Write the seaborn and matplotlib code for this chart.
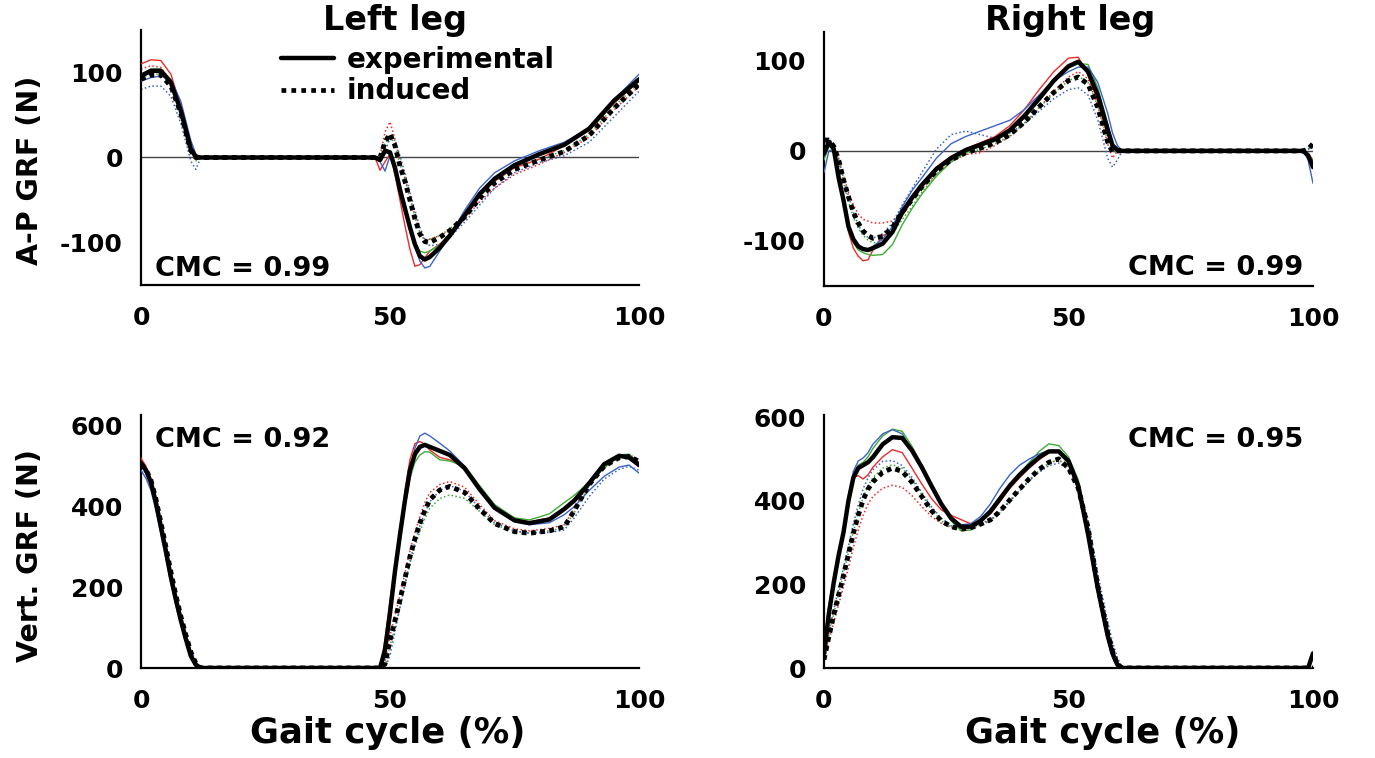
import numpy as np
import pandas as pd
import matplotlib
matplotlib.use("Agg")
import matplotlib.pyplot as plt
from matplotlib.lines import Line2D
import seaborn as sns

# ---------------- data (gait cycle %, force N) ----------------
# Top-left: Left leg, A-P GRF
tl_x = [0, 2, 4, 6, 8, 10, 11, 12, 47, 48, 49, 50, 51, 52, 53, 54, 55, 56, 57, 58,
        60, 62, 65, 68, 71, 75, 80, 85, 90, 95, 100]
tl_exp_mean = [96, 102, 102, 88, 55, 10, 1, 0, 0, -3, 8, 6, -12, -38, -60, -82, -102, -116, -120, -117,
               -106, -92, -68, -43, -25, -9, 4, 15, 34, 67, 92]
tl_ind_mean = [92, 97, 97, 84, 52, 8, 0, 0, 0, 0, 18, 28, 14, -10, -28, -50, -72, -90, -99, -100,
               -94, -86, -70, -48, -30, -14, -3, 7, 26, 58, 86]
tl_exp_red = [110, 115, 114, 98, 60, 12, 2, 0, 0, -15, -5, 4, -20, -50, -80, -108, -128, -126, -118, -110,
              -102, -90, -67, -44, -28, -12, -2, 14, 32, 64, 90]
tl_exp_green = [98, 104, 104, 92, 58, 12, 2, 0, 0, -4, 6, 8, -10, -35, -58, -82, -100, -110, -112, -110,
                -103, -90, -66, -42, -24, -9, 4, 16, 33, 66, 92]
tl_exp_blue = [90, 94, 96, 92, 66, 20, 4, 0, 0, -5, -16, 2, -8, -32, -55, -80, -104, -122, -130, -128,
               -110, -92, -62, -36, -18, -4, 8, 18, 34, 68, 98]
tl_ind_red = [104, 108, 106, 90, 54, 6, -2, 0, 0, 2, 30, 42, 22, -4, -24, -46, -68, -88, -98, -96,
              -92, -86, -72, -52, -36, -20, -8, 6, 24, 56, 84]
tl_ind_green = [94, 98, 98, 86, 52, 8, -4, 0, 0, 0, 16, 26, 14, -8, -26, -48, -70, -88, -97, -96,
                -92, -84, -68, -46, -28, -12, -2, 8, 27, 60, 88]
tl_ind_blue = [80, 84, 84, 72, 40, -4, -14, 0, 0, 0, 8, 22, 20, 2, -18, -40, -62, -82, -96, -104,
               -102, -94, -76, -56, -36, -18, -6, 2, 18, 48, 78]

# Top-right: Right leg, A-P GRF
tr_x = [0, 1, 2, 3, 4, 5, 6, 7, 8, 9, 10, 12, 14, 16, 18, 20, 23, 26, 29, 32, 35, 38, 41, 44,
        47, 50, 52, 54, 56, 58, 59, 60, 61, 98, 99, 100]
tr_exp_mean = [-3, 10, 2, -30, -55, -84, -98, -106, -109, -110, -108, -103, -90, -68, -52, -38, -20, -8, 1, 7,
               13, 23, 39, 58, 78, 94, 99, 88, 62, 24, 6, 1, 0, 0, -5, -18]
tr_ind_mean = [12, 12, 5, -10, -32, -51, -68, -80, -89, -94, -97, -95, -85, -68, -54, -40, -22, -10, -2, 3,
               9, 18, 32, 49, 65, 78, 82, 74, 48, 10, -1, 0, 0, 0, 2, 8]
tr_exp_red = [0, 6, 4, -30, -60, -90, -108, -117, -122, -121, -110, -94, -90, -72, -55, -36, -18, -6, 2, 9,
              16, 28, 46, 68, 88, 103, 104, 84, 55, 18, 4, 0, 0, 0, -3, -10]
tr_exp_green = [-10, 5, 2, -28, -55, -85, -102, -110, -113, -115, -116, -115, -104, -82, -64, -48, -28, -12, -2, 5,
                11, 21, 37, 56, 76, 92, 97, 96, 70, 30, 8, 2, 0, 0, -3, -12]
tr_exp_blue = [-24, 0, 2, -30, -58, -86, -100, -108, -110, -110, -106, -98, -84, -62, -44, -30, -8, 8, 16, 22,
               28, 34, 46, 62, 78, 88, 93, 93, 76, 42, 20, 6, 0, 0, -10, -36]
tr_ind_red = [8, 10, 4, -8, -28, -46, -60, -70, -76, -78, -80, -80, -78, -66, -54, -42, -26, -12, -4, -2,
              6, 16, 30, 48, 66, 82, 88, 80, 50, 8, -8, 0, 0, 0, 2, 6]
tr_ind_green = [10, 14, 6, -12, -36, -56, -74, -86, -94, -99, -102, -101, -92, -76, -62, -46, -26, -12, -3, 2,
                8, 17, 31, 48, 64, 78, 83, 76, 50, 12, 0, -2, 0, 0, 2, 6]
tr_ind_blue = [14, 14, 6, -10, -30, -50, -68, -82, -92, -96, -97, -92, -80, -60, -42, -24, 2, 18, 22, 18,
               14, 20, 30, 44, 58, 68, 70, 62, 34, -8, -18, -10, 0, 0, 2, 4]

# Bottom-left: Left leg, vertical GRF
bl_x = [0, 1, 2, 3, 4, 5, 6, 7, 8, 9, 10, 11, 12, 47, 48, 49, 50, 51, 52, 53, 54, 55, 56, 57, 58,
        60, 62, 65, 68, 71, 75, 78, 82, 85, 87, 90, 93, 96, 98, 100]
bl_exp_mean = [508, 490, 460, 410, 350, 290, 225, 170, 118, 72, 30, 8, 0, 0, 0, 45, 136, 240, 330, 415, 490, 530, 548, 553, 548,
               538, 528, 495, 443, 397, 366, 359, 368, 394, 415, 458, 505, 526, 522, 503]
bl_ind_mean = [505, 492, 465, 418, 360, 300, 238, 180, 128, 82, 40, 12, 0, 0, 0, 10, 69, 118, 169, 222, 276, 320, 359, 390, 417,
               441, 450, 435, 394, 358, 338, 334, 340, 350, 390, 455, 500, 521, 524, 512]
bl_exp_red = [520, 500, 465, 412, 350, 288, 222, 165, 112, 66, 26, 5, 0, 0, 0, 70, 169, 255, 334, 440, 516, 556, 561, 555, 540,
              522, 516, 496, 445, 400, 368, 362, 372, 395, 412, 455, 505, 528, 528, 510]
bl_exp_green = [505, 488, 458, 410, 350, 288, 225, 170, 118, 72, 30, 8, 0, 0, 0, 30, 125, 225, 318, 400, 470, 510, 528, 536, 535,
                516, 513, 500, 452, 405, 372, 367, 382, 410, 428, 460, 495, 528, 530, 508]
bl_exp_blue = [490, 470, 440, 390, 330, 270, 210, 155, 108, 65, 28, 10, 0, 0, 0, 25, 120, 220, 315, 405, 485, 545, 575, 582, 575,
               557, 538, 500, 445, 395, 362, 355, 360, 380, 400, 440, 475, 498, 503, 483]
bl_ind_red = [512, 495, 466, 418, 360, 300, 238, 182, 130, 84, 42, 14, 0, 0, 0, 15, 80, 130, 180, 235, 290, 335, 375, 410, 435,
              455, 462, 448, 405, 365, 345, 340, 346, 355, 395, 460, 505, 526, 528, 518]
bl_ind_green = [500, 486, 460, 414, 356, 298, 236, 180, 128, 82, 40, 12, 0, 0, 0, 5, 55, 100, 150, 205, 258, 300, 338, 370, 396,
                420, 429, 420, 388, 355, 338, 334, 340, 348, 385, 452, 498, 520, 522, 510]
bl_ind_blue = [495, 482, 458, 414, 358, 300, 240, 184, 134, 88, 46, 16, 0, 0, 0, 0, 30, 90, 150, 210, 265, 312, 352, 385, 412,
               440, 452, 438, 396, 360, 340, 334, 336, 342, 372, 425, 468, 492, 500, 490]

# Bottom-right: Right leg, vertical GRF
br_x = [0, 1, 2, 3, 4, 5, 6, 7, 8, 9, 10, 12, 14, 16, 18, 20, 22, 24, 26, 28, 30, 32, 34, 36, 38,
        40, 42, 44, 46, 48, 50, 52, 54, 56, 58, 59, 60, 61, 99, 100]
br_exp_mean = [35, 130, 205, 270, 325, 400, 455, 478, 485, 492, 504, 535, 552, 550, 520, 480, 435, 392, 358, 338, 338, 352, 374, 405, 436,
               462, 484, 504, 518, 518, 495, 435, 320, 190, 78, 35, 8, 0, 0, 35]
br_ind_mean = [20, 75, 128, 175, 222, 272, 322, 365, 402, 428, 445, 468, 478, 470, 444, 410, 376, 352, 338, 332, 335, 344, 354, 375, 402,
               428, 453, 475, 492, 500, 478, 430, 335, 195, 85, 40, 8, 0, 0, 0]
br_exp_red = [60, 150, 215, 275, 330, 405, 455, 460, 452, 462, 480, 505, 522, 515, 478, 440, 405, 378, 365, 355, 345, 350, 368, 398, 430,
              455, 478, 498, 515, 520, 495, 432, 315, 185, 72, 30, 5, 0, 0, 0]
br_exp_green = [30, 125, 200, 268, 325, 400, 458, 485, 492, 505, 525, 555, 571, 566, 530, 485, 438, 390, 352, 328, 330, 350, 375, 405, 435,
                465, 492, 518, 536, 532, 505, 450, 335, 200, 82, 38, 10, 0, 0, 0]
br_exp_blue = [30, 125, 200, 268, 330, 410, 470, 495, 502, 515, 535, 560, 570, 560, 520, 475, 430, 390, 360, 342, 345, 362, 392, 430, 462,
               485, 500, 512, 520, 515, 490, 428, 310, 178, 68, 25, 3, 0, 0, 0]
br_ind_red = [15, 65, 110, 152, 195, 240, 288, 330, 365, 392, 410, 430, 437, 432, 412, 386, 362, 346, 336, 332, 335, 342, 352, 372, 398,
              424, 450, 472, 490, 498, 478, 432, 338, 198, 88, 44, 12, 0, 0, 0]
br_ind_green = [20, 78, 130, 178, 226, 276, 326, 370, 408, 436, 455, 478, 486, 478, 450, 414, 378, 352, 336, 330, 334, 342, 352, 372, 400,
                426, 450, 472, 490, 498, 482, 440, 350, 212, 100, 52, 18, 0, 0, 0]
br_ind_blue = [25, 85, 140, 190, 240, 292, 345, 390, 428, 455, 474, 494, 496, 484, 456, 420, 385, 358, 340, 333, 336, 345, 355, 375, 400,
               424, 448, 468, 484, 490, 474, 438, 355, 225, 112, 62, 25, 0, 0, 0]

titles = ["Left leg", "Right leg"]
ylabels = ["A-P GRF (N)", "Vert. GRF (N)"]
xlabel = "Gait cycle (%)"
cmc_labels = ["CMC = 0.99", "CMC = 0.99", "CMC = 0.92", "CMC = 0.95"]
ap_ticks = [100, 0, -100]
vert_ticks = [0, 200, 400, 600]
x_ticks = [0, 50, 100]
legend_labels = ["experimental", "induced"]

# ---------------- style ----------------
sns.set_style("white")
plt.rcParams["font.family"] = ["DejaVu Sans"]
plt.rcParams["font.weight"] = "bold"
plt.rcParams["axes.unicode_minus"] = False
plt.rcParams["text.color"] = "black"
plt.rcParams["axes.labelcolor"] = "black"
plt.rcParams["xtick.color"] = "black"
plt.rcParams["ytick.color"] = "black"

RED = "#ec2b2b"
GREEN = "#3cae35"
BLUE = "#3a64c8"

fig = plt.figure(figsize=(13.75, 7.58), dpi=100)
W, H = 1375.0, 758.0


def add_axes(left, top, right, bottom):
    return fig.add_axes([left / W, 1 - bottom / H, (right - left) / W, (bottom - top) / H])


ax_tl = add_axes(141, 30, 639, 285)
ax_tr = add_axes(824, 32, 1313, 286)
ax_bl = add_axes(141, 415, 639, 668)
ax_br = add_axes(824, 415, 1313, 668)

panels = [
    (ax_tl, tl_x, tl_exp_mean, tl_ind_mean, [tl_exp_red, tl_exp_green, tl_exp_blue],
     [tl_ind_red, tl_ind_green, tl_ind_blue], (-150, 150), ap_ticks),
    (ax_tr, tr_x, tr_exp_mean, tr_ind_mean, [tr_exp_red, tr_exp_green, tr_exp_blue],
     [tr_ind_red, tr_ind_green, tr_ind_blue], (-150, 132), ap_ticks),
    (ax_bl, bl_x, bl_exp_mean, bl_ind_mean, [bl_exp_red, bl_exp_green, bl_exp_blue],
     [bl_ind_red, bl_ind_green, bl_ind_blue], (0, 627), vert_ticks),
    (ax_br, br_x, br_exp_mean, br_ind_mean, [br_exp_red, br_exp_green, br_exp_blue],
     [br_ind_red, br_ind_green, br_ind_blue], (0, 605), vert_ticks),
]

for i, (ax, x, em, im, exps, inds, ylim, yt) in enumerate(panels):
    if i < 2:
        ax.axhline(0, color="#444444", lw=1.0, zorder=1)
    for c, y in zip([RED, GREEN, BLUE], inds):
        sns.lineplot(x=x, y=y, ax=ax, color=c, lw=1.1, ls=(0, (1, 1.6)), errorbar=None, zorder=2)
    for c, y in zip([RED, GREEN, BLUE], exps):
        sns.lineplot(x=x, y=y, ax=ax, color=c, lw=1.0, errorbar=None, zorder=3)
    sns.lineplot(x=x, y=em, ax=ax, color="black", lw=3.2, errorbar=None, zorder=4)
    sns.lineplot(x=x, y=im, ax=ax, color="black", lw=3.5, ls=(0, (1, 0.9)), errorbar=None, zorder=5)

    ax.set_xlim(0, 100)
    ax.set_ylim(*ylim)
    ax.set_xticks(x_ticks)
    ax.set_yticks(yt)
    ax.set_xlabel("")
    ax.set_ylabel("")
    for s in ["top", "right"]:
        ax.spines[s].set_visible(False)
    for s in ["left", "bottom"]:
        ax.spines[s].set_color("black")
        ax.spines[s].set_linewidth(1.6)
    ax.tick_params(axis="both", direction="in", length=6, width=1.4, color="black",
                   labelsize=18, labelcolor="black")
    ax.tick_params(axis="x", pad=15)
    ax.tick_params(axis="y", pad=13)
    for lab in ax.get_xticklabels() + ax.get_yticklabels():
        lab.set_fontweight("bold")
        lab.set_color("black")

TXT = dict(fontweight="bold", color="black")

# CMC texts
fig.text(155 / W, 1 - 276 / H, cmc_labels[0], fontsize=19.5, ha="left", va="baseline", **TXT)
fig.text(1303 / W, 1 - 275 / H, cmc_labels[1], fontsize=19.5, ha="right", va="baseline", **TXT)
fig.text(155 / W, 1 - 447 / H, cmc_labels[2], fontsize=19.5, ha="left", va="baseline", **TXT)
fig.text(1303 / W, 1 - 447 / H, cmc_labels[3], fontsize=19.5, ha="right", va="baseline", **TXT)

# titles
fig.text(395 / W, 1 - 30 / H, titles[0], fontsize=24, ha="center", va="baseline", **TXT)
fig.text(1070 / W, 1 - 30 / H, titles[1], fontsize=24, ha="center", va="baseline", **TXT)

# axis labels
fig.text(388 / W, 1 - 743 / H, xlabel, fontsize=25.5, ha="center", va="baseline", **TXT)
fig.text(1103 / W, 1 - 743 / H, xlabel, fontsize=25.5, ha="center", va="baseline", **TXT)
fig.text(30 / W, 1 - 170 / H, ylabels[0], fontsize=20.5, ha="center", va="center", rotation=90, **TXT)
fig.text(30 / W, 1 - 555 / H, ylabels[1], fontsize=20.5, ha="center", va="center", rotation=90, **TXT)

# legend
handles = [Line2D([0], [0], color="black", lw=3.2),
           Line2D([0], [0], color="black", lw=3.4, ls=(0, (1, 1.1)))]
leg = fig.legend(handles, legend_labels, loc="upper left", bbox_to_anchor=(281 / W, 1 - 46 / H),
                 frameon=False, prop={"weight": "bold", "size": 20},
                 handlelength=1.9, handletextpad=0.45, labelspacing=0.12, borderpad=0, borderaxespad=0)
for t in leg.get_texts():
    t.set_color("black")

fig.savefig("out.png", dpi=100)
